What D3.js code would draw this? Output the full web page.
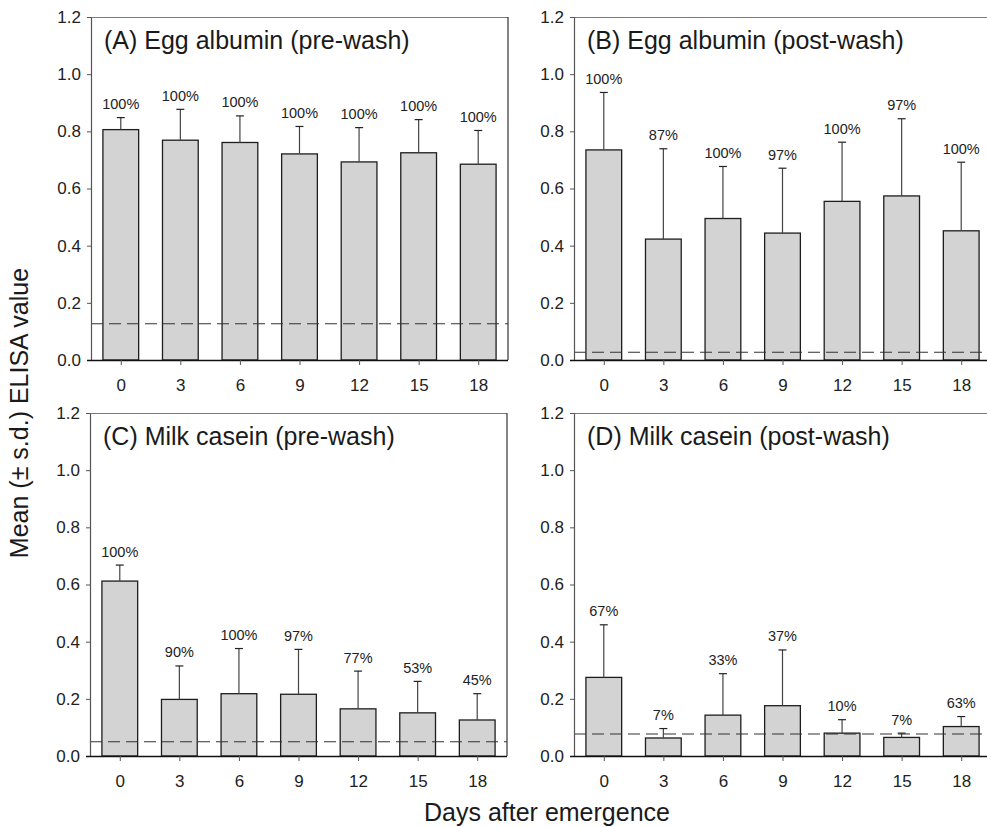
<!DOCTYPE html>
<html>
<head>
<meta charset="utf-8">
<script src="https://cdn.jsdelivr.net/npm/d3@7"></script>
<style>
  html, body { margin: 0; padding: 0; background: #fff; overflow: hidden; }
  svg { display: block; font-family: "Liberation Sans", Arial, sans-serif; }
</style>
</head>
<body>
<svg id="chart" width="987" height="827"></svg>
<script>
// ---- data ----
const days = [0, 3, 6, 9, 12, 15, 18];
const yTicks = [0, 0.2, 0.4, 0.6, 0.8, 1.0, 1.2];
const panelTitles = [
  "(A) Egg albumin (pre-wash)",
  "(B) Egg albumin (post-wash)",
  "(C) Milk casein (pre-wash)",
  "(D) Milk casein (post-wash)"
];
const meanA = [0.806, 0.769, 0.761, 0.721, 0.693, 0.725, 0.685];
const sdA   = [0.042, 0.108, 0.093, 0.096, 0.120, 0.116, 0.118];
const pctA  = ["100%", "100%", "100%", "100%", "100%", "100%", "100%"];
const meanB = [0.735, 0.423, 0.495, 0.444, 0.555, 0.574, 0.452];
const sdB   = [0.201, 0.316, 0.182, 0.227, 0.207, 0.270, 0.240];
const pctB  = ["100%", "87%", "100%", "97%", "100%", "97%", "100%"];
const meanC = [0.612, 0.198, 0.218, 0.216, 0.165, 0.151, 0.126];
const sdC   = [0.056, 0.117, 0.158, 0.157, 0.132, 0.110, 0.092];
const pctC  = ["100%", "90%", "100%", "97%", "77%", "53%", "45%"];
const meanD = [0.275, 0.063, 0.143, 0.176, 0.080, 0.065, 0.103];
const sdD   = [0.184, 0.033, 0.145, 0.195, 0.047, 0.015, 0.035];
const pctD  = ["67%", "7%", "33%", "37%", "10%", "7%", "63%"];
const cutoffs = [0.127, 0.027, 0.050, 0.077];
const xTitle = "Days after emergence";
const yTitle = "Mean (± s.d.) ELISA value";

// ---- layout ----
const svg = d3.select("#chart");
const panelW = 417, panelH = 343;
const panels = [
  { left: 91,  top: 17,  mean: meanA, sd: sdA, pct: pctA, cut: cutoffs[0], title: panelTitles[0] },
  { left: 574, top: 17,  mean: meanB, sd: sdB, pct: pctB, cut: cutoffs[1], title: panelTitles[1] },
  { left: 90,  top: 413, mean: meanC, sd: sdC, pct: pctC, cut: cutoffs[2], title: panelTitles[2] },
  { left: 574, top: 413, mean: meanD, sd: sdD, pct: pctD, cut: cutoffs[3], title: panelTitles[3] }
];
const barW = 1.8; // in day units

panels.forEach(p => {
  const g = svg.append("g").attr("transform", `translate(${p.left},${p.top})`);
  const x = d3.scaleLinear().domain([-1.5, 19.5]).range([0, panelW]);
  const y = d3.scaleLinear().domain([0, 1.2]).range([panelH, 0]);

  // frame top & right
  g.append("line").attr("x1", 0).attr("x2", panelW).attr("y1", 0.5).attr("y2", 0.5)
    .attr("stroke", "#7a7a7a").attr("stroke-width", 1.2);
  g.append("line").attr("x1", panelW).attr("x2", panelW).attr("y1", 0).attr("y2", panelH)
    .attr("stroke", "#333").attr("stroke-width", 1.2);

  // bars
  g.selectAll("rect.bar").data(days).join("rect")
    .attr("class", "bar")
    .attr("x", (d) => x(d - barW / 2))
    .attr("width", (d) => x(d + barW / 2) - x(d - barW / 2))
    .attr("y", (d, i) => y(p.mean[i]))
    .attr("height", (d, i) => y(0) - y(p.mean[i]))
    .attr("fill", "#d3d3d3")
    .attr("stroke", "#1e1e1e")
    .attr("stroke-width", 1.3);

  // error bars (upper only)
  const eg = g.selectAll("g.err").data(days).join("g").attr("class", "err");
  eg.append("line")
    .attr("x1", d => x(d)).attr("x2", d => x(d))
    .attr("y1", (d, i) => y(p.mean[i]))
    .attr("y2", (d, i) => y(p.mean[i] + p.sd[i]))
    .attr("stroke", "#444").attr("stroke-width", 1.2);
  eg.append("line")
    .attr("x1", d => x(d) - 4).attr("x2", d => x(d) + 4)
    .attr("y1", (d, i) => y(p.mean[i] + p.sd[i]))
    .attr("y2", (d, i) => y(p.mean[i] + p.sd[i]))
    .attr("stroke", "#222").attr("stroke-width", 1.2);

  // percent labels
  g.selectAll("text.pct").data(days).join("text")
    .attr("class", "pct")
    .attr("x", d => x(d))
    .attr("y", (d, i) => y(p.mean[i] + p.sd[i]) - 8.5)
    .attr("text-anchor", "middle")
    .attr("font-size", "14.5px")
    .attr("fill", "#222")
    .text((d, i) => p.pct[i]);

  // dashed cutoff line
  g.append("line")
    .attr("x1", 0).attr("x2", panelW)
    .attr("y1", y(p.cut)).attr("y2", y(p.cut))
    .attr("stroke", "#333").attr("stroke-width", 1.1)
    .attr("stroke-dasharray", "12,6");

  // y axis
  const yAxis = d3.axisLeft(y).tickValues(yTicks).tickFormat(d3.format(".1f"))
    .tickSize(4).tickSizeOuter(0).tickPadding(6);
  const ya = g.append("g").call(yAxis);
  ya.select(".domain").attr("stroke", "#555").attr("stroke-width", 1.2);
  ya.selectAll(".tick line").attr("stroke", "#555");
  ya.selectAll(".tick text").attr("font-size", "17px").attr("fill", "#222")
    .attr("font-family", "Liberation Sans, Arial, sans-serif");

  // x axis
  const xAxis = d3.axisBottom(x).tickValues(days).tickFormat(d3.format("d"))
    .tickSize(5).tickSizeOuter(0).tickPadding(14);
  const xa = g.append("g").attr("transform", `translate(0,${panelH})`).call(xAxis);
  xa.select(".domain").attr("stroke", "#111").attr("stroke-width", 1.3)
    .attr("d", `M-4,0.5H${panelW}`);
  xa.selectAll(".tick line").attr("stroke", "#555");
  xa.selectAll(".tick text").attr("font-size", "17px").attr("fill", "#222")
    .attr("font-family", "Liberation Sans, Arial, sans-serif");

  // panel title
  g.append("text")
    .attr("x", 13).attr("y", 32)
    .attr("font-size", "25px")
    .attr("fill", "#1a1a1a")
    .text(p.title);
});

// axis titles
svg.append("text")
  .attr("x", 547).attr("y", 821)
  .attr("text-anchor", "middle")
  .attr("font-size", "25px")
  .attr("fill", "#1a1a1a")
  .text(xTitle);

svg.append("text")
  .attr("transform", "translate(28,413) rotate(-90)")
  .attr("text-anchor", "middle")
  .attr("font-size", "25px")
  .attr("fill", "#1a1a1a")
  .text(yTitle);
</script>
</body>
</html>
